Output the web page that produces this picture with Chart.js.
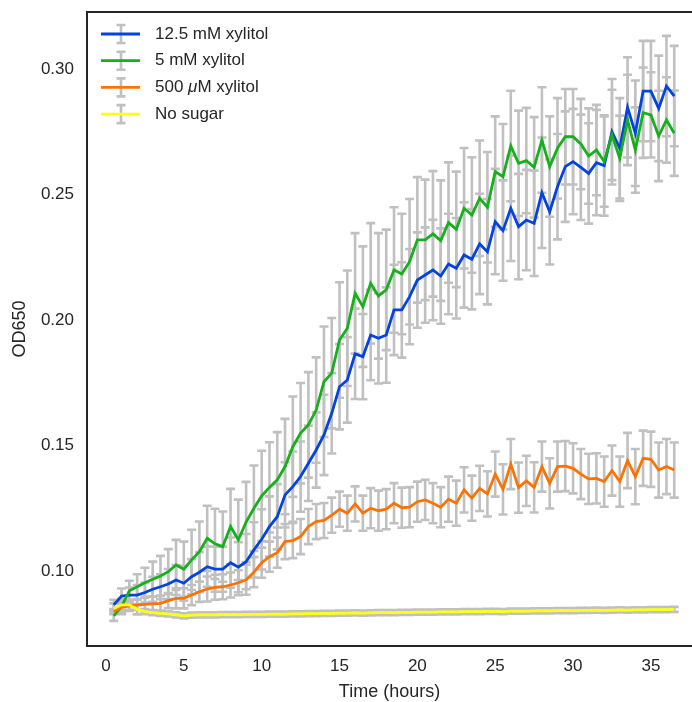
<!DOCTYPE html>
<html>
<head>
<meta charset="utf-8">
<script src="https://cdn.jsdelivr.net/npm/chart.js@4.4.1/dist/chart.umd.min.js"></script>
<style>
  html, body { margin: 0; padding: 0; background: #ffffff; }
  #wrap { width: 692px; height: 702px; }
</style>
</head>
<body>
<div id="wrap"><canvas id="odChart" width="692" height="702"></canvas></div>
<script>
// ==== Data ====
const hours = [
    0.5, 1.0, 1.5, 2.0, 2.5, 3.0, 3.5, 4.0, 4.5, 5.0,
    5.5, 6.0, 6.5, 7.0, 7.5, 8.0, 8.5, 9.0, 9.5, 10.0,
    10.5, 11.0, 11.5, 12.0, 12.5, 13.0, 13.5, 14.0, 14.5, 15.0,
    15.5, 16.0, 16.5, 17.0, 17.5, 18.0, 18.5, 19.0, 19.5, 20.0,
    20.5, 21.0, 21.5, 22.0, 22.5, 23.0, 23.5, 24.0, 24.5, 25.0,
    25.5, 26.0, 26.5, 27.0, 27.5, 28.0, 28.5, 29.0, 29.5, 30.0,
    30.5, 31.0, 31.5, 32.0, 32.5, 33.0, 33.5, 34.0, 34.5, 35.0,
    35.5, 36.0, 36.5
];

const xylitol125 = [
    0.0865, 0.0900, 0.0904, 0.0904, 0.0914, 0.0927, 0.0937, 0.0948, 0.0964, 0.0951,
    0.0977, 0.0995, 0.1017, 0.1007, 0.1007, 0.1033, 0.1015, 0.1037, 0.1084, 0.1126,
    0.1177, 0.1216, 0.1303, 0.1336, 0.1376, 0.1429, 0.1482, 0.1542, 0.1628, 0.1734,
    0.1761, 0.1865, 0.1854, 0.1940, 0.1927, 0.1940, 0.2040, 0.2040, 0.2093, 0.2159,
    0.2179, 0.2199, 0.2175, 0.2223, 0.2206, 0.2259, 0.2242, 0.2303, 0.2272, 0.2392,
    0.2356, 0.2445, 0.2372, 0.2398, 0.2385, 0.2507, 0.2431, 0.2531, 0.2611, 0.2631,
    0.2608, 0.2584, 0.2627, 0.2615, 0.2750, 0.2684, 0.2847, 0.2744, 0.2912, 0.2912,
    0.2843, 0.2932, 0.2892
];
const xylitol125Err = [
    0.002, 0.003, 0.003, 0.004, 0.004, 0.005, 0.005, 0.006, 0.006, 0.007,
    0.007, 0.008, 0.008, 0.009, 0.009, 0.010, 0.010, 0.011, 0.011, 0.012,
    0.012, 0.013, 0.013, 0.014, 0.014, 0.015, 0.015, 0.016, 0.016, 0.017,
    0.017, 0.018, 0.017, 0.018, 0.018, 0.019, 0.018, 0.019, 0.019, 0.019,
    0.019, 0.020, 0.019, 0.020, 0.020, 0.021, 0.020, 0.020, 0.021, 0.021,
    0.020, 0.021, 0.021, 0.020, 0.021, 0.022, 0.021, 0.021, 0.022, 0.021,
    0.021, 0.020, 0.021, 0.020, 0.021, 0.020, 0.020, 0.021, 0.020, 0.020,
    0.021, 0.020, 0.020
];

const xylitol5 = [
    0.0821, 0.0858, 0.0921, 0.0937, 0.0953, 0.0967, 0.0980, 0.0997, 0.1024, 0.1007,
    0.1044, 0.1077, 0.1130, 0.1108, 0.1097, 0.1177, 0.1124, 0.1195, 0.1250, 0.1299,
    0.1333, 0.1363, 0.1416, 0.1495, 0.1549, 0.1582, 0.1641, 0.1754, 0.1788, 0.1920,
    0.1967, 0.2106, 0.2053, 0.2146, 0.2096, 0.2120, 0.2199, 0.2183, 0.2232, 0.2319,
    0.2319, 0.2343, 0.2316, 0.2388, 0.2361, 0.2445, 0.2418, 0.2485, 0.2449, 0.2591,
    0.2571, 0.2693, 0.2624, 0.2635, 0.2608, 0.2717, 0.2611, 0.2684, 0.2730, 0.2730,
    0.2701, 0.2653, 0.2677, 0.2631, 0.2737, 0.2644, 0.2797, 0.2677, 0.2826, 0.2817,
    0.2733, 0.2797, 0.2744
];
const xylitol5Err = [
    0.002, 0.003, 0.004, 0.005, 0.006, 0.007, 0.008, 0.009, 0.010, 0.011,
    0.012, 0.012, 0.013, 0.014, 0.014, 0.015, 0.016, 0.016, 0.017, 0.018,
    0.018, 0.019, 0.019, 0.020, 0.020, 0.021, 0.021, 0.022, 0.022, 0.023,
    0.023, 0.024, 0.024, 0.024, 0.025, 0.024, 0.025, 0.024, 0.025, 0.025,
    0.024, 0.025, 0.024, 0.024, 0.023, 0.024, 0.023, 0.023, 0.022, 0.022,
    0.021, 0.022, 0.021, 0.021, 0.020, 0.021, 0.020, 0.020, 0.019, 0.019,
    0.018, 0.019, 0.018, 0.018, 0.018, 0.017, 0.018, 0.017, 0.018, 0.017,
    0.018, 0.017, 0.017
];

const xylitol500u = [
    0.0838, 0.0855, 0.0861, 0.0865, 0.0867, 0.0869, 0.0871, 0.0882, 0.0891, 0.0891,
    0.0904, 0.0917, 0.0928, 0.0935, 0.0937, 0.0944, 0.0953, 0.0965, 0.0995, 0.1033,
    0.1057, 0.1073, 0.1117, 0.1121, 0.1137, 0.1177, 0.1197, 0.1201, 0.1222, 0.1246,
    0.1230, 0.1267, 0.1230, 0.1250, 0.1240, 0.1246, 0.1270, 0.1252, 0.1254, 0.1276,
    0.1283, 0.1270, 0.1254, 0.1286, 0.1270, 0.1323, 0.1290, 0.1329, 0.1307, 0.1386,
    0.1325, 0.1426, 0.1332, 0.1359, 0.1333, 0.1416, 0.1349, 0.1416, 0.1418, 0.1409,
    0.1386, 0.1367, 0.1369, 0.1356, 0.1400, 0.1356, 0.1440, 0.1376, 0.1449, 0.1445,
    0.1402, 0.1416, 0.1402
];
const xylitol500uErr = [
    0.001, 0.002, 0.002, 0.002, 0.003, 0.003, 0.003, 0.003, 0.004, 0.004,
    0.004, 0.004, 0.005, 0.005, 0.005, 0.005, 0.005, 0.006, 0.006, 0.006,
    0.006, 0.006, 0.007, 0.007, 0.007, 0.007, 0.007, 0.007, 0.007, 0.007,
    0.007, 0.007, 0.007, 0.008, 0.008, 0.008, 0.008, 0.008, 0.008, 0.008,
    0.008, 0.008, 0.008, 0.009, 0.009, 0.009, 0.009, 0.009, 0.009, 0.009,
    0.010, 0.010, 0.010, 0.010, 0.010, 0.010, 0.010, 0.010, 0.010, 0.010,
    0.010, 0.010, 0.010, 0.010, 0.010, 0.010, 0.011, 0.011, 0.011, 0.011,
    0.011, 0.011, 0.011
];

const noSugar = [
    0.0851, 0.0865, 0.0865, 0.0847, 0.0838, 0.0834, 0.0831, 0.0829, 0.0825, 0.0821,
    0.0824, 0.0825, 0.0825, 0.0825, 0.0826, 0.0826, 0.0826, 0.0827, 0.0827, 0.0827,
    0.0828, 0.0828, 0.0828, 0.0829, 0.0829, 0.0830, 0.0830, 0.0831, 0.0831, 0.0832,
    0.0832, 0.0833, 0.0832, 0.0833, 0.0834, 0.0834, 0.0834, 0.0835, 0.0835, 0.0836,
    0.0836, 0.0836, 0.0837, 0.0837, 0.0837, 0.0838, 0.0838, 0.0838, 0.0839, 0.0839,
    0.0838, 0.0840, 0.0840, 0.0840, 0.0841, 0.0841, 0.0841, 0.0842, 0.0842, 0.0842,
    0.0843, 0.0843, 0.0844, 0.0843, 0.0844, 0.0845, 0.0844, 0.0845, 0.0845, 0.0846,
    0.0846, 0.0846, 0.0847
];
const noSugarErr = [
    0.002, 0.002, 0.002, 0.002, 0.001, 0.001, 0.001, 0.001, 0.001, 0.001,
    0.001, 0.001, 0.001, 0.001, 0.001, 0.001, 0.001, 0.001, 0.001, 0.001,
    0.001, 0.001, 0.001, 0.001, 0.001, 0.001, 0.001, 0.001, 0.001, 0.001,
    0.001, 0.001, 0.001, 0.001, 0.001, 0.001, 0.001, 0.001, 0.001, 0.001,
    0.001, 0.001, 0.001, 0.001, 0.001, 0.001, 0.001, 0.001, 0.001, 0.001,
    0.001, 0.001, 0.001, 0.001, 0.001, 0.001, 0.001, 0.001, 0.001, 0.001,
    0.001, 0.001, 0.001, 0.001, 0.001, 0.001, 0.001, 0.001, 0.001, 0.001,
    0.001, 0.001, 0.001
];

const seriesNames = ['12.5 mM xylitol', '5 mM xylitol', '500 μM xylitol', 'No sugar'];
const xTicks = [0, 5, 10, 15, 20, 25, 30, 35];
const yTicks = [0.10, 0.15, 0.20, 0.25, 0.30];

// ==== Style ====
const fontFamily = "'Liberation Sans', Arial, sans-serif";
const textColor = '#262626';
const errColor = '#c0c0c0';
const lineColors = ['#0343df', '#15b01a', '#f97306', '#ffff14'];

const toPoints = vals => vals.map((v, i) => ({ x: hours[i], y: v }));

const seriesValues = [xylitol125, xylitol5, xylitol500u, noSugar];
const seriesErrors = [xylitol125Err, xylitol5Err, xylitol500uErr, noSugarErr];

// ==== Error bars, drawn under the lines ====
const errorBarPlugin = {
    id: 'errorBars',
    beforeDatasetsDraw(chart) {
        const { ctx, chartArea: a, scales: { x, y } } = chart;
        const cap = 4.5;
        ctx.save();
        ctx.beginPath();
        ctx.rect(a.left, a.top, a.right - a.left, a.bottom - a.top);
        ctx.clip();
        ctx.strokeStyle = errColor;
        ctx.lineWidth = 2.6;
        seriesValues.forEach((vals, s) => {
            vals.forEach((v, i) => {
                const e = seriesErrors[s][i];
                const px = x.getPixelForValue(hours[i]);
                const top = y.getPixelForValue(v + e);
                const bot = y.getPixelForValue(v - e);
                ctx.beginPath();
                ctx.moveTo(px, top); ctx.lineTo(px, bot);
                ctx.moveTo(px - cap, top); ctx.lineTo(px + cap, top);
                ctx.moveTo(px - cap, bot); ctx.lineTo(px + cap, bot);
                ctx.stroke();
            });
        });
        ctx.restore();
    }
};

// ==== Frame + legend (matplotlib style) ====
const framePlugin = {
    id: 'frameLegend',
    afterDraw(chart) {
        const { ctx, chartArea: a } = chart;
        ctx.save();
        ctx.strokeStyle = textColor;
        ctx.lineWidth = 2;
        ctx.strokeRect(a.left, a.top, a.right - a.left + 4, a.bottom - a.top);

        const lx = a.left + 14;
        const ly = a.top + 22;
        const step = 26.7;
        ctx.font = `17px ${fontFamily}`;
        ctx.textBaseline = 'middle';
        seriesNames.forEach((name, i) => {
            const cy = ly + i * step;
            const cx = lx + 20;
            // error glyph
            ctx.strokeStyle = errColor;
            ctx.lineWidth = 2.6;
            ctx.beginPath();
            ctx.moveTo(cx, cy - 9); ctx.lineTo(cx, cy + 9);
            ctx.moveTo(cx - 4.5, cy - 9); ctx.lineTo(cx + 4.5, cy - 9);
            ctx.moveTo(cx - 4.5, cy + 9); ctx.lineTo(cx + 4.5, cy + 9);
            ctx.stroke();
            // line sample
            ctx.strokeStyle = lineColors[i];
            ctx.lineWidth = 2.8;
            ctx.beginPath();
            ctx.moveTo(lx, cy); ctx.lineTo(lx + 39, cy);
            ctx.stroke();
            // label (mu in italics like mathtext)
            ctx.fillStyle = textColor;
            let tx = lx + 54;
            const parts = name.split('μ');
            if (parts.length === 2) {
                ctx.fillText(parts[0], tx, cy);
                tx += ctx.measureText(parts[0]).width;
                ctx.font = `italic 17px ${fontFamily}`;
                ctx.fillText('μ', tx, cy);
                tx += ctx.measureText('μ').width;
                ctx.font = `17px ${fontFamily}`;
                ctx.fillText(parts[1], tx, cy);
            } else {
                ctx.fillText(name, tx, cy);
            }
        });
        ctx.restore();
    }
};

const ctx = document.getElementById('odChart').getContext('2d');
new Chart(ctx, {
    type: 'line',
    data: {
        datasets: seriesValues.map((vals, i) => ({
            label: seriesNames[i],
            data: toPoints(vals),
            borderColor: lineColors[i],
            backgroundColor: lineColors[i],
            borderWidth: 2.8,
            pointRadius: 0,
            tension: 0,
            order: 3 - i
        }))
    },
    options: {
        responsive: false,
        animation: false,
        devicePixelRatio: 1,
        layout: { padding: { top: 12, right: 0, bottom: 0, left: 0 } },
        plugins: {
            legend: { display: false },
            tooltip: { enabled: false }
        },
        scales: {
            x: {
                type: 'linear',
                min: -1.22,
                max: 37.64,
                afterBuildTicks: scale => { scale.ticks = xTicks.map(v => ({ value: v })); },
                afterFit: scale => {
                    scale.height = 56;
                    scale.paddingLeft = 0;
                    scale.paddingRight = 0;
                },
                grid: { display: false, drawTicks: false },
                border: { display: false },
                ticks: {
                    color: textColor,
                    padding: 10,
                    maxRotation: 0,
                    font: { family: fontFamily, size: 17 },
                    callback: v => String(v)
                },
                title: {
                    display: true,
                    text: 'Time (hours)',
                    color: textColor,
                    padding: { top: 0, bottom: -1 },
                    font: { family: fontFamily, size: 18 }
                }
            },
            y: {
                min: 0.0701,
                max: 0.3227,
                afterBuildTicks: scale => { scale.ticks = yTicks.map(v => ({ value: v })); },
                afterFit: scale => {
                    scale.width = 87;
                    scale.paddingTop = 0;
                    scale.paddingBottom = 0;
                },
                grid: { display: false, drawTicks: false },
                border: { display: false },
                ticks: {
                    color: textColor,
                    padding: 13,
                    font: { family: fontFamily, size: 17 },
                    callback: v => v.toFixed(2)
                },
                title: {
                    display: true,
                    text: 'OD650',
                    color: textColor,
                    padding: { top: 9, bottom: 0 },
                    font: { family: fontFamily, size: 18 }
                }
            }
        }
    },
    plugins: [errorBarPlugin, framePlugin]
});
</script>
</body>
</html>
